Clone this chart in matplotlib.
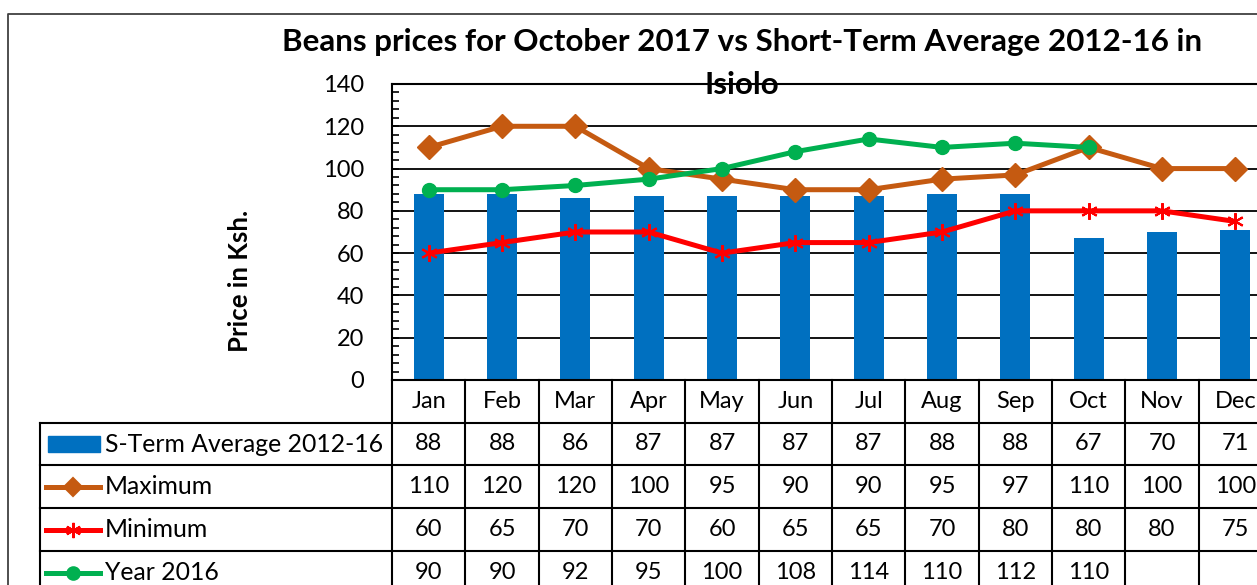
import matplotlib.pyplot as plt
import matplotlib.transforms as mtransforms
from matplotlib.ticker import MultipleLocator
from matplotlib.lines import Line2D
from matplotlib.patches import Rectangle

# =============================================
# Data
# =============================================

months = ["Jan", "Feb", "Mar", "Apr", "May", "Jun",
          "Jul", "Aug", "Sep", "Oct", "Nov", "Dec"]
avg_2012_16 = [88, 88, 86, 87, 87, 87, 87, 88, 88, 67, 70, 71]
maximum = [110, 120, 120, 100, 95, 90, 90, 95, 97, 110, 100, 100]
minimum = [60, 65, 70, 70, 60, 65, 65, 70, 80, 80, 80, 75]
year_2016 = [90, 90, 92, 95, 100, 108, 114, 110, 112, 110, None, None]

series_names = ["S-Term Average 2012-16", "Maximum", "Minimum", "Year 2016"]

BLUE = "#0070C0"
ORANGE = "#C55A11"
RED = "#FF0000"
GREEN = "#00B050"

plt.rcParams['font.family'] = ['Lato', 'DejaVu Sans']

W, H = 1257, 585
fig = plt.figure(figsize=(W / 100, H / 100), dpi=100)

# overlay in pixel coordinates for the frame / table
over = fig.add_axes([0, 0, 1, 1])
over.set_xlim(0, W)
over.set_ylim(H, 0)
over.axis('off')

# main plot area (extends past the right edge, as in the reference)
ax_left, ax_right, ax_top, ax_bottom = 392, 1272, 84, 380
ax = fig.add_axes([ax_left / W, 1 - ax_bottom / H,
                   (ax_right - ax_left) / W, (ax_bottom - ax_top) / H])
ax.patch.set_alpha(0)

x = list(range(len(months)))
ax.bar(x, avg_2012_16, width=0.41, color=BLUE, zorder=2)
ax.plot(x, maximum, color=ORANGE, lw=3.6, marker='D', ms=12, zorder=3)
ax.plot(x, minimum, color=RED, lw=3.6, marker=(6, 2, 0), ms=12,
        mew=1.5, zorder=4)
x16 = [i for i, v in zip(x, year_2016) if v is not None]
y16 = [v for v in year_2016 if v is not None]
ax.plot(x16, y16, color=GREEN, lw=3.6, marker='o', ms=10, zorder=5)

ax.set_xlim(-0.5, 11.5)
ax.set_ylim(0, 140)
ax.yaxis.set_major_locator(MultipleLocator(20))
ax.yaxis.set_minor_locator(MultipleLocator(4))
ax.set_xticks([])
ax.grid(axis='y', which='major', color='black', lw=1.3, zorder=1)
ax.tick_params(axis='y', which='both', direction='in', length=5,
               width=1.2, labelsize=17, pad=20)
for side in ['left', 'top', 'bottom']:
    ax.spines[side].set_color('black')
    ax.spines[side].set_linewidth(1.5)
ax.spines['right'].set_visible(False)

# outer chart frame
over.plot([8, 8, W + 5], [H + 5, 14, 14], color='#404040', lw=1.3)

# title (two lines, as wrapped in the reference) and axis label
fig.text(742 / W, 1 - 42 / H,
         "Beans prices for October 2017 vs Short-Term Average 2012-16 in",
         ha='center', va='center', fontsize=22.6, fontweight='bold', zorder=10)
fig.text(742 / W, 1 - 85 / H, "Isiolo",
         ha='center', va='center', fontsize=22.6, fontweight='bold', zorder=10)
over.text(240, 281, "Price in Ksh.", rotation=90, ha='center', va='center',
          fontsize=18.5, fontweight='bold')

# =============================================
# Data table under the plot
# =============================================
blend = mtransforms.blended_transform_factory(ax.transData, over.transData)
row_lines = [380, 423, 465, 508, 551, 594]
lw_tab = 1.5

for i in range(len(months) + 1):
    over.plot([i - 0.5, i - 0.5], [380, H + 5], color='black', lw=lw_tab,
              transform=blend, clip_on=False)
for yl in row_lines[1:]:
    over.plot([40, W + 5], [yl, yl], color='black', lw=lw_tab, clip_on=False)
over.plot([40, 40], [423, H + 5], color='black', lw=lw_tab, clip_on=False)

for i, m in enumerate(months):
    over.text(i, 402, m, transform=blend, ha='center', va='center',
              fontsize=17)

rows = [avg_2012_16, maximum, minimum, year_2016]
for r, vals in enumerate(rows):
    yc = (row_lines[r + 1] + row_lines[r + 2]) / 2
    for i, v in enumerate(vals):
        if v is not None:
            over.text(i, yc, str(v), transform=blend, ha='center',
                      va='center', fontsize=17)

# legend keys in the first column
key_colors = [BLUE, ORANGE, RED, GREEN]
key_markers = [None, 'D', (6, 2, 0), 'o']
for r, name in enumerate(series_names):
    yc = (row_lines[r + 1] + row_lines[r + 2]) / 2
    if r == 0:
        over.add_patch(Rectangle((48, yc - 8), 52, 16, color=BLUE))
    else:
        over.add_line(Line2D([46, 100], [yc, yc], color=key_colors[r],
                             lw=3.6, marker=None))
        over.plot([73], [yc], marker=key_markers[r], color=key_colors[r],
                  ms=9 if r != 2 else 11, mew=1.5)
    over.text(105, yc, name, ha='left', va='center', fontsize=17.8)

fig.savefig("out.png", dpi=100)
